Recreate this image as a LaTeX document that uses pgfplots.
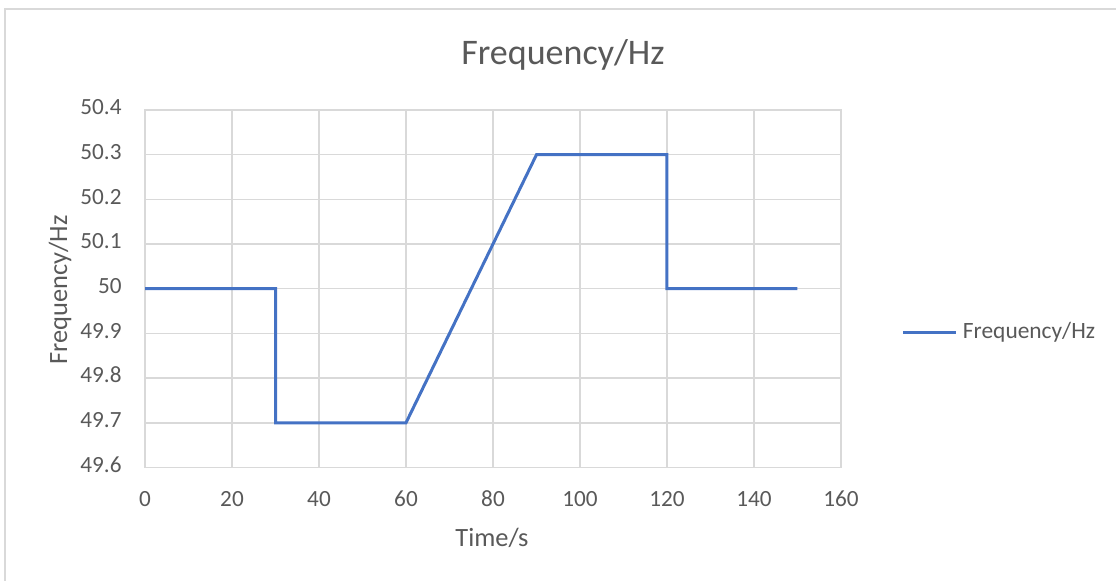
\documentclass[border=0pt]{standalone}
\usepackage{fontspec}
\setmainfont{Carlito}
\usepackage{pgfplots}
\pgfplotsset{compat=1.18}
\definecolor{txt}{HTML}{595959}
\definecolor{gridc}{HTML}{D9D9D9}
\definecolor{lineblue}{HTML}{4472C4}
\begin{document}
\begin{tikzpicture}
% 1 px of the reference = 0.5pt
\useasboundingbox (0,0) rectangle (558pt,290.5pt);
\draw[gridc, line width=1pt] (2.5pt,0) -- (2.5pt,286pt) -- (560pt,286pt);

\begin{axis}[
    at={(72.5pt,56.75pt)}, anchor=south west,
    scale only axis,
    width=348pt, height=178.75pt,
    xmin=0, xmax=160, ymin=49.6, ymax=50.4,
    xtick={0,20,...,160},
    ytick={49.6,49.7,49.8,49.9,50,50.1,50.2,50.3,50.4},
    yticklabels={49.6,49.7,49.8,49.9,50,50.1,50.2,50.3,50.4},
    major tick length=0pt,
    grid=major,
    grid style={gridc, line width=0.75pt},
    axis line style={gridc, line width=0.75pt},
    /pgf/number format/assume math mode=true,
    xticklabel style={anchor=base, yshift=-19.75pt, inner sep=0pt, font=\fontsize{11.6}{13}\selectfont, text=txt},
    yticklabel style={anchor=mid east, xshift=-11.5pt, inner sep=0pt, font=\fontsize{11.6}{13}\selectfont, text=txt},
    legend style={at={(rel axis cs:1.0876,0.378)}, anchor=west, draw=none, fill=none,
        inner sep=0pt, outer sep=0pt, font=\fontsize{11.7}{13}\selectfont, text=txt,
        nodes={inner sep=0pt}, column sep=2.5pt},
    legend image code/.code={\draw[#1] (0pt,0pt) -- (26.5pt,0pt);},
    clip=false,
]
\addplot[lineblue, line width=1.5pt] coordinates {
    (0,50) (30,50) (30,49.7) (60,49.7) (90,50.3) (120,50.3) (120,50) (150,50)
};
\addlegendentry{Frequency/Hz}
\end{axis}

\node[text=txt, font=\fontsize{18}{21}\selectfont, inner sep=0pt] at (281.5pt,263pt) {Frequency/Hz};
\node[text=txt, font=\fontsize{13.2}{15}\selectfont, inner sep=0pt, rotate=90] at (30pt,145.5pt) {Frequency/Hz};
\node[text=txt, font=\fontsize{13.2}{15}\selectfont, inner sep=0pt] at (246pt,21.5pt) {Time/s};
\end{tikzpicture}
\end{document}
